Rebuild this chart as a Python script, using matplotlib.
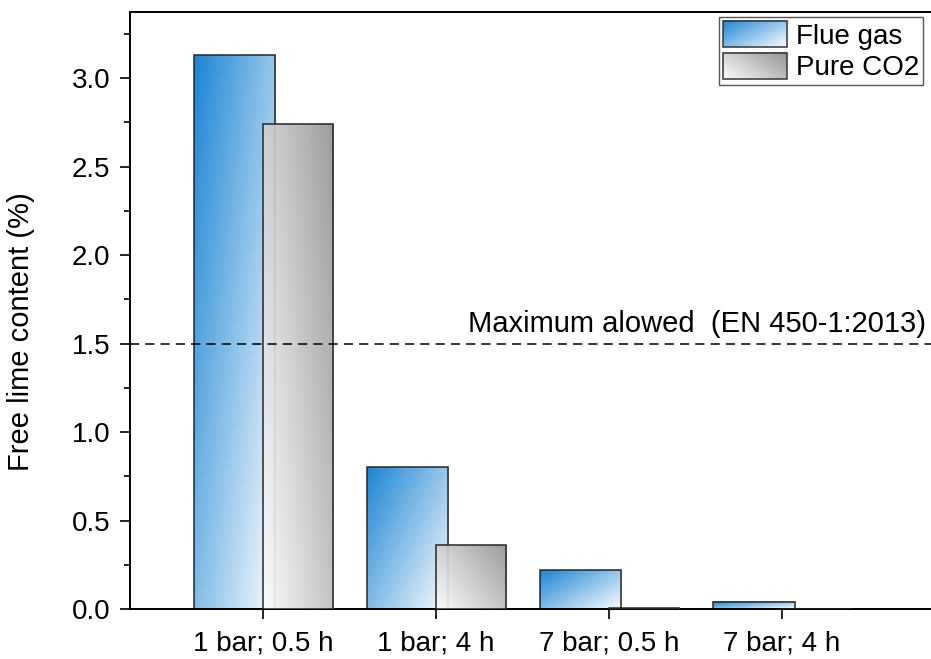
"""Free lime content bar chart with gradient-filled bars."""

import numpy as np
import matplotlib
matplotlib.use("Agg")
import matplotlib.pyplot as plt
from matplotlib.patches import Rectangle
from matplotlib.legend_handler import HandlerBase
from matplotlib.image import BboxImage
from matplotlib.transforms import Bbox, TransformedBbox
from matplotlib.ticker import MultipleLocator, FormatStrFormatter

conditions = ["1 bar; 0.5 h", "1 bar; 4 h", "7 bar; 0.5 h", "7 bar; 4 h"]
flue_gas = [3.13, 0.80, 0.22, 0.04]
pure_co2 = [2.74, 0.36, 0.005, 0.0]
series_labels = ["Flue gas", "Pure CO2"]
limit_value = 1.5
limit_label = "Maximum alowed  (EN 450-1:2013)"
y_label = "Free lime content (%)"

BLUE_DARK = np.array([28, 134, 212]) / 255
BLUE_LIGHT = np.array([250, 252, 255]) / 255
GRAY_LIGHT = np.array([252, 252, 252]) / 255
GRAY_DARK = np.array([148, 148, 148]) / 255
EDGE = "#262626"
TICK_FS = 20
TEXT_FS = 21
LEGEND_FS = 20

plt.rcParams["font.family"] = ["Liberation Sans", "DejaVu Sans"]


def blue_gradient(n=80):
    # dark at top-left, white at bottom-right (row 0 = bottom)
    u, v = np.meshgrid(np.linspace(0, 1, n), np.linspace(0, 1, n))
    t = np.clip(0.55 * u + 0.45 * (1 - v), 0, 1)[..., None]
    return BLUE_DARK * (1 - t) + BLUE_LIGHT * t


def gray_gradient(n=80):
    # white at bottom-left, dark at top-right
    u, v = np.meshgrid(np.linspace(0, 1, n), np.linspace(0, 1, n))
    t = np.clip(0.6 * u + 0.4 * v, 0, 1)[..., None]
    return GRAY_LIGHT * (1 - t) + GRAY_DARK * t


class GradientHandler(HandlerBase):
    def __init__(self, grad):
        super().__init__()
        self.grad = grad

    def create_artists(self, legend, orig_handle, xdescent, ydescent,
                       width, height, fontsize, trans):
        box = Bbox.from_bounds(-xdescent, -ydescent, width, height)
        img = BboxImage(TransformedBbox(box, trans), origin="lower",
                        interpolation="bilinear")
        img.set_data(self.grad)
        rect = Rectangle((-xdescent, -ydescent), width, height,
                         fill=False, edgecolor="#333333", lw=1.1,
                         transform=trans)
        return [img, rect]


def draw_bars(ax, xs, heights, offset, width, grad, z, alpha=1.0):
    bars = ax.bar(xs + offset, heights, width, align="edge", fill=False,
                  edgecolor=EDGE, linewidth=1.1, zorder=z + 0.1)
    for b in bars:
        if b.get_height() <= 0:
            continue
        x0 = b.get_x()
        ax.imshow(grad, extent=(x0, x0 + b.get_width(), 0, b.get_height()),
                  origin="lower", aspect="auto", interpolation="bilinear",
                  zorder=z, alpha=alpha)
    return bars


def main():
    fig = plt.figure(figsize=(9.31, 6.59), dpi=100)
    ax = fig.add_axes([130 / 931, 1 - 609 / 659, 801 / 931, 597 / 659])

    xs = np.arange(len(conditions))
    draw_bars(ax, xs, flue_gas, -0.40, 0.472, blue_gradient(), 2)
    draw_bars(ax, xs, pure_co2, 0.0, 0.405, gray_gradient(), 3, alpha=0.92)

    ax.axhline(limit_value, color="black", lw=1.1, dashes=(6, 4), zorder=4)
    ax.text(3.83, limit_value + 0.03, limit_label, ha="right", va="bottom",
            fontsize=TEXT_FS, zorder=5)

    ax.set_xlim(-0.769, 3.861)
    ax.set_ylim(0, 3.373)
    ax.set_xticks(xs)
    ax.set_xticklabels(conditions)
    ax.yaxis.set_major_locator(MultipleLocator(0.5))
    ax.yaxis.set_minor_locator(MultipleLocator(0.25))
    ax.yaxis.set_major_formatter(FormatStrFormatter("%.1f"))

    ax.tick_params(axis="both", which="major", direction="out", length=7.5,
                   width=1.2, labelsize=TICK_FS, pad=6.5, colors="black")
    ax.tick_params(axis="y", which="minor", direction="out", length=4.5,
                   width=1.2)
    ax.tick_params(axis="x", pad=8)
    ax.spines["right"].set_visible(False)
    for side in ("left", "bottom", "top"):
        ax.spines[side].set_linewidth(1.4)

    ax.set_ylabel(y_label, fontsize=TEXT_FS)
    ax.yaxis.set_label_coords(-0.1186, 0.464)

    handles = [Rectangle((0, 0), 1, 1), Rectangle((0, 1), 1, 1)]
    leg = ax.legend(handles, series_labels, loc="upper right",
                    bbox_to_anchor=(0.990, 0.9916), borderaxespad=0,
                    fontsize=LEGEND_FS, handlelength=2.3, handleheight=1.08,
                    handletextpad=0.3, labelspacing=0.1, borderpad=0.15,
                    fancybox=False, framealpha=1,
                    handler_map={handles[0]: GradientHandler(blue_gradient()),
                                 handles[1]: GradientHandler(gray_gradient())})
    leg.get_frame().set_edgecolor("#555555")
    leg.get_frame().set_linewidth(1.0)

    fig.savefig("out.png", dpi=100)


if __name__ == "__main__":
    main()
